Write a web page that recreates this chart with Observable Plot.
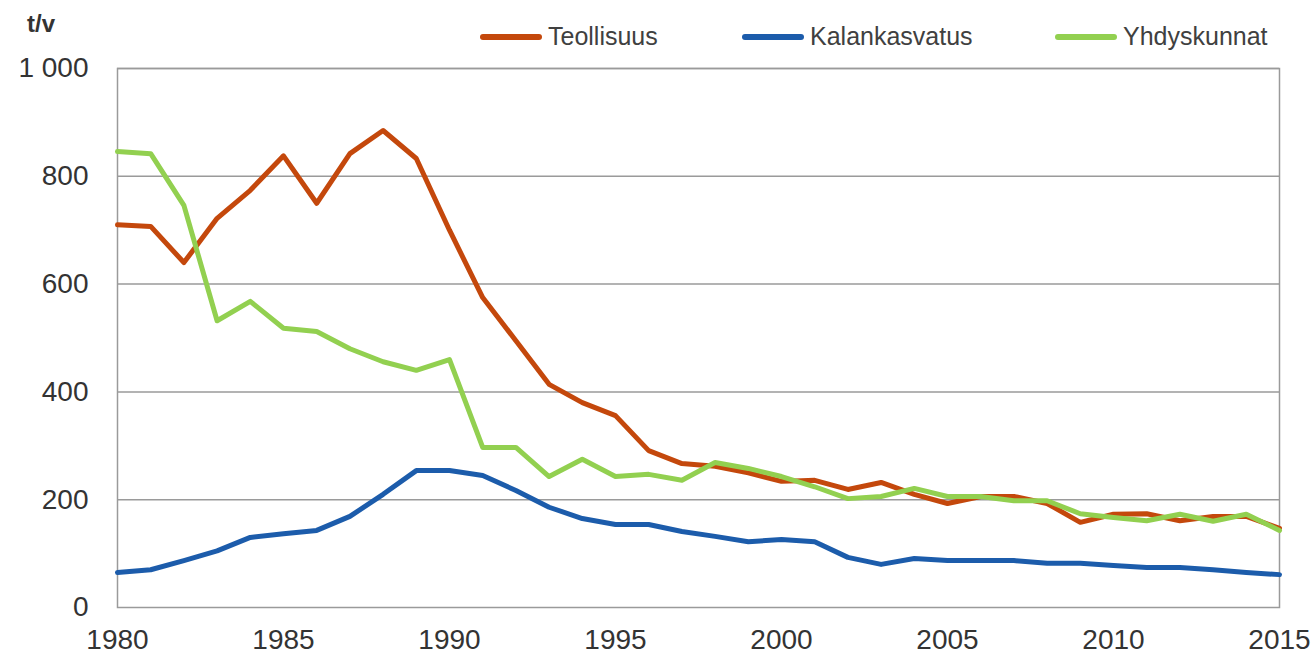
<!DOCTYPE html>
<html>
<head>
<meta charset="utf-8">
<script src="https://cdn.jsdelivr.net/npm/d3@7"></script>
<script src="https://cdn.jsdelivr.net/npm/@observablehq/plot@0.6"></script>
<style>
  html, body { margin: 0; padding: 0; background: #fff; }
  #wrap { position: relative; width: 1316px; height: 659px; font-family: "Liberation Sans", Arial, sans-serif; }
  #unit { position: absolute; left: 27px; top: 10px; font-size: 24px; font-weight: bold; color: #333; }
  #legend { position: absolute; top: 22px; left: 0; width: 1316px; height: 34px; }
  .item { position: absolute; display: flex; align-items: center; font-size: 25px; color: #404040; }
  .sw { width: 62px; height: 6px; border-radius: 3px; margin-right: 6px; }
  #chart { position: absolute; left: 0; top: 0; }
</style>
</head>
<body>
<div id="wrap">
  <div id="chart"></div>
  <div id="unit">t/v</div>
  <div id="legend"></div>
</div>
<script>
const years = d3.range(1980, 2016);
const seriesNames = ["Teollisuus", "Kalankasvatus", "Yhdyskunnat"];
const seriesColors = ["#C4480C", "#1C5CAB", "#92D050"];
const teollisuus = [710, 707, 640, 722, 774, 838, 750, 842, 885, 833, 700, 575, 495, 414, 380, 356, 291, 267, 262, 250, 234, 236, 219, 232, 210, 193, 206, 206, 193, 158, 173, 174, 161, 169, 169, 147];
const kalankasvatus = [65, 70, 87, 105, 130, 137, 143, 169, 210, 254, 254, 245, 217, 186, 165, 154, 154, 141, 132, 122, 126, 122, 93, 80, 91, 87, 87, 87, 82, 82, 78, 74, 74, 70, 65, 61];
const yhdyskunnat = [846, 842, 746, 532, 568, 518, 512, 480, 456, 440, 460, 297, 297, 243, 275, 243, 247, 236, 269, 258, 243, 224, 202, 206, 221, 206, 206, 198, 198, 174, 167, 161, 173, 160, 173, 143];
const xTicks = [1980, 1985, 1990, 1995, 2000, 2005, 2010, 2015];
const yTicks = [0, 200, 400, 600, 800, 1000];
const legendLeft = [480, 742, 1055];

const valuesBySeries = [teollisuus, kalankasvatus, yhdyskunnat];
const data = [];
seriesNames.forEach((s, i) => {
  years.forEach((y, j) => data.push({series: s, year: y, value: valuesBySeries[i][j]}));
});

const fmt = v => v >= 1000 ? d3.format(",")(v).replace(",", " ") : String(v);

const chart = Plot.plot({
  width: 1316,
  height: 659,
  marginLeft: 117,
  marginRight: 37,
  marginTop: 68,
  marginBottom: 52,
  style: { fontFamily: '"Liberation Sans", Arial, sans-serif', background: "white" },
  x: { domain: [1980, 2015] },
  y: { domain: [0, 1000] },
  color: { domain: seriesNames, range: seriesColors },
  marks: [
    Plot.gridY(yTicks.filter(t => t > 0), { stroke: "#9a9a9a", strokeOpacity: 1, strokeWidth: 1.5 }),
    Plot.frame({ stroke: "#9a9a9a", strokeWidth: 1.5 }),
    Plot.lineY(data, { x: "year", y: "value", z: "series", stroke: "series", strokeWidth: 5, strokeLinejoin: "round" }),
    Plot.axisX(xTicks, { tickSize: 0, tickPadding: 22, fontSize: 28, fill: "#333", tickFormat: d => String(d), label: null }),
    Plot.axisY(yTicks, { tickSize: 0, tickPadding: 29, fontSize: 28, fill: "#333", tickFormat: fmt, label: null })
  ]
});
document.getElementById("chart").appendChild(chart);

const legend = document.getElementById("legend");
seriesNames.forEach((s, i) => {
  const item = document.createElement("div");
  item.className = "item";
  item.style.left = legendLeft[i] + "px";
  const sw = document.createElement("div");
  sw.className = "sw";
  sw.style.background = seriesColors[i];
  const label = document.createElement("span");
  label.textContent = s;
  item.appendChild(sw);
  item.appendChild(label);
  legend.appendChild(item);
});
</script>
</body>
</html>
